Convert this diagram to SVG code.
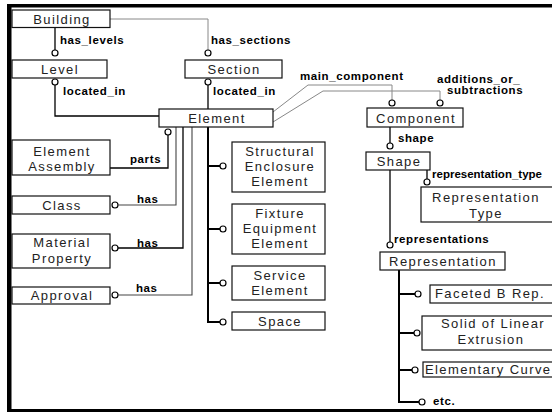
<svg xmlns="http://www.w3.org/2000/svg" width="552" height="412" viewBox="0 0 552 412">
<style>
.box{fill:#fff;stroke:#111;stroke-width:1.2}
.t{font-family:"Liberation Sans",Arial,sans-serif;font-size:13px;fill:#222;letter-spacing:1.4px;text-anchor:middle}
.ts{font-family:"Liberation Sans",Arial,sans-serif;font-size:13px;fill:#222;letter-spacing:1.4px}
.lb{font-family:"Liberation Sans",Arial,sans-serif;font-size:11.5px;font-weight:bold;fill:#000;letter-spacing:0.6px}
.ln{fill:none;stroke:#000;stroke-width:1.3}
.lg{fill:none;stroke:#888;stroke-width:1}
.lm{fill:none;stroke:#444;stroke-width:1.1}
.lt{fill:none;stroke:#000;stroke-width:2}
.c{fill:#fff;stroke:#000;stroke-width:1.2}
</style>
<rect x="0" y="0" width="552" height="412" fill="#fff"/>
<g id="frame">
<rect x="7" y="4" width="545" height="3.5" fill="#000"/>
<rect x="7" y="4" width="4.5" height="408" fill="#000"/>
<rect x="7" y="409" width="545" height="3" fill="#000"/>
</g>
<g id="connectors">
<path class="ln" d="M55,27 V50"/><circle class="c" cx="55" cy="53" r="3"/>
<path class="lg" d="M110,19 H208 V50"/><circle class="c" cx="208" cy="53" r="3"/>
<circle class="c" cx="55" cy="82" r="3"/><path class="ln" d="M55,85 V116 H159"/>
<circle class="c" cx="208" cy="82" r="3"/><path class="ln" d="M208,85 V109"/>
<path class="lg" d="M273,112 L308,85 H392 V100"/><circle class="c" cx="392" cy="103" r="3"/>
<path class="lg" d="M273,122 L323,91 H440 V100"/><circle class="c" cx="440" cy="103" r="3"/>
<path class="ln" d="M390,127 V143"/><circle class="c" cx="390" cy="146" r="3"/>
<path class="ln" d="M427,170 V179"/><circle class="c" cx="427" cy="182" r="3"/>
<path class="ln" d="M390,170 V242"/><circle class="c" cx="390" cy="245" r="3"/>
<path class="lt" d="M399,270 V402 H419 M399,294 H415 M399,333 H414 M399,370 H412"/>
<circle class="c" cx="418" cy="294" r="3"/><circle class="c" cx="417" cy="333" r="3"/><circle class="c" cx="415" cy="370" r="3"/><circle class="c" cx="422" cy="402" r="3"/>
<path class="lt" d="M208,127 V322 H220 M208,166 H220 M208,229 H220 M208,283 H220"/>
<circle class="c" cx="223" cy="166" r="3"/><circle class="c" cx="223" cy="229" r="3"/><circle class="c" cx="223" cy="283" r="3"/><circle class="c" cx="223" cy="322" r="3"/>
<circle class="c" cx="168" cy="132" r="3"/><path class="ln" d="M168,135 V168 H110"/>
<circle class="c" cx="115" cy="205" r="3"/><path class="lm" d="M118,205 H176 V127"/>
<circle class="c" cx="115" cy="248" r="3"/><path class="ln" d="M118,248 H183 V127"/>
<circle class="c" cx="115" cy="295" r="3"/><path class="lm" d="M118,295 H192 V127"/>
<text class="lb" x="60" y="44">has_levels</text>
<text class="lb" x="211" y="44">has_sections</text>
<text class="lb" x="63" y="95">located_in</text>
<text class="lb" x="213" y="95">located_in</text>
<text class="lb" x="300" y="80">main_component</text>
<text class="lb" x="437" y="83">additions_or_</text>
<text class="lb" x="447" y="94">subtractions</text>
<text class="lb" x="398" y="142">shape</text>
<text x="432" y="178" font-family="Liberation Sans, Arial, sans-serif" font-size="11" font-weight="bold" textLength="110" lengthAdjust="spacingAndGlyphs">representation_type</text>
<text class="lb" x="394" y="243">representations</text>
<text class="lb" x="130" y="163">parts</text>
<text class="lb" x="137" y="203">has</text>
<text class="lb" x="137" y="247">has</text>
<text class="lb" x="136" y="292">has</text>
<text class="lb" x="433" y="405">etc.</text>
</g>
<g id="building"><rect class="box" x="12" y="10" width="98" height="17.5"/><text class="t" x="62" y="24">Building</text></g>
<g id="level"><rect class="box" x="12" y="60" width="95" height="18"/><text class="t" x="60" y="74">Level</text></g>
<g id="section"><rect class="box" x="185" y="60" width="97" height="18"/><text class="t" x="234" y="74">Section</text></g>
<g id="element"><rect class="box" x="159" y="109" width="114" height="18"/><text class="t" x="217" y="123">Element</text></g>
<g id="component"><rect class="box" x="367" y="108" width="96" height="19"/><text class="t" x="416" y="123">Component</text></g>
<g id="shape"><rect class="box" x="366" y="152" width="64" height="18"/><text class="t" x="399" y="166">Shape</text></g>
<g id="representation-type"><rect class="box" x="421" y="187" width="140" height="35"/><text class="t" x="486" y="202">Representation</text><text class="t" x="486" y="218">Type</text></g>
<g id="representation"><rect class="box" x="380" y="252" width="125" height="18"/><text class="t" x="443" y="266">Representation</text></g>
<g id="faceted"><rect class="box" x="430" y="285" width="130" height="18"/><text class="t" x="490" y="298">Faceted B Rep.</text></g>
<g id="solid"><rect class="box" x="422" y="316" width="140" height="34"/><text class="t" x="493" y="328">Solid of Linear</text><text class="t" x="491" y="344">Extrusion</text></g>
<g id="elementary-curve"><rect class="box" x="423" y="362" width="140" height="15"/><text class="ts" x="425" y="374">Elementary Curve</text></g>
<g id="element-assembly"><rect class="box" x="12" y="140" width="98" height="35"/><text class="t" x="62" y="156">Element</text><text class="t" x="62" y="171">Assembly</text></g>
<g id="class"><rect class="box" x="12" y="196" width="98" height="18"/><text class="t" x="62" y="210">Class</text></g>
<g id="material-property"><rect class="box" x="12" y="234" width="98" height="34"/><text class="t" x="62" y="247">Material</text><text class="t" x="62" y="263">Property</text></g>
<g id="approval"><rect class="box" x="12" y="287" width="98" height="17"/><text class="t" x="62" y="300">Approval</text></g>
<g id="structural"><rect class="box" x="232" y="142" width="93" height="50"/><text class="t" x="280" y="156">Structural</text><text class="t" x="280" y="171">Enclosure</text><text class="t" x="280" y="186">Element</text></g>
<g id="fixture"><rect class="box" x="232" y="204" width="93" height="50"/><text class="t" x="280" y="218">Fixture</text><text class="t" x="280" y="233">Equipment</text><text class="t" x="280" y="248">Element</text></g>
<g id="service"><rect class="box" x="232" y="266" width="93" height="34"/><text class="t" x="280" y="280">Service</text><text class="t" x="280" y="295">Element</text></g>
<g id="space"><rect class="box" x="232" y="312" width="93" height="18"/><text class="t" x="280" y="326">Space</text></g>
</svg>
